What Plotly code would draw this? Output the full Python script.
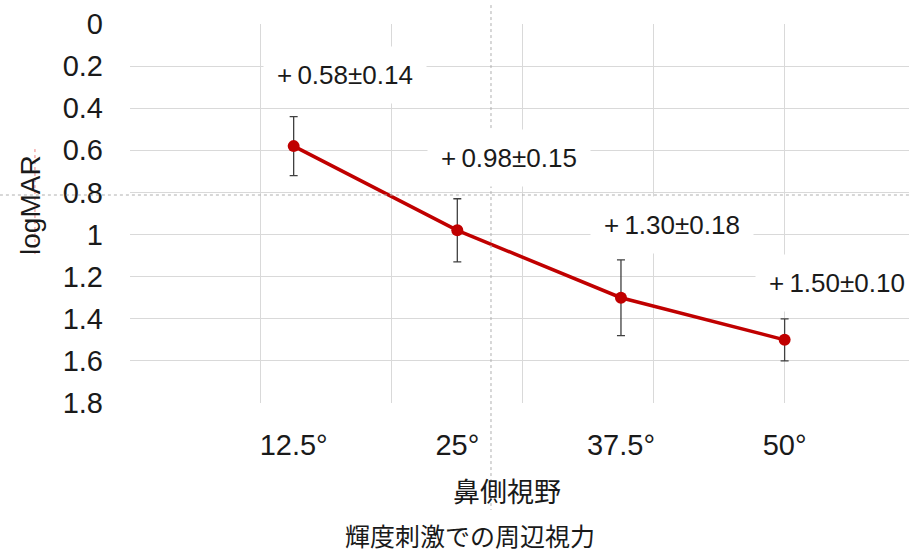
import plotly.graph_objects as go

# Nasal visual field eccentricity (degrees) and mean logMAR ± SD
eccentricity = [12.5, 25, 37.5, 50]
logmar_mean = [0.58, 0.98, 1.30, 1.50]
logmar_sd = [0.14, 0.15, 0.18, 0.10]
tick_text = [f"{v:g}°" for v in eccentricity]
y_ticks = [0, 0.2, 0.4, 0.6, 0.8, 1.0, 1.2, 1.4, 1.6, 1.8]
grid_x = [0, 10, 20, 30, 40, 50, 60]

# label offsets (pixels) relative to each point
label_dx = [51, 52, 51, 52]
label_dy = [71, 72, 73, 57]

LATIN = "Liberation Sans, Arial, sans-serif"
CJK = "Noto Sans CJK JP, sans-serif"
RED = "#C00000"
GRID = "#d9d9d9"

fig = go.Figure()
fig.add_trace(go.Scatter(
    x=eccentricity, y=logmar_mean,
    mode="lines+markers",
    line=dict(color=RED, width=3.5),
    marker=dict(color=RED, size=12),
    error_y=dict(type="data", array=logmar_sd, visible=True,
                 color="#404040", thickness=1.3, width=4),
    showlegend=False,
))

for x, m, s, dx, dy in zip(eccentricity, logmar_mean, logmar_sd, label_dx, label_dy):
    fig.add_annotation(
        x=x, y=m, xref="x", yref="y",
        xanchor="center", yanchor="middle",
        text=f"+\u2009{m:.2f}±{s:.2f}",
        showarrow=False, xshift=dx, yshift=dy,
        font=dict(family=LATIN, size=26, color="#1a1a1a"),
        bgcolor="white", borderpad=13,
    )

# axis titles
title_common = dict(xref="paper", yref="paper", showarrow=False,
                    xanchor="center", yanchor="middle")
fig.add_annotation(x=0.484, y=-0.2296, text="鼻側視野",
                   font=dict(family=CJK, size=27, color="#1a1a1a"), **title_common)
fig.add_annotation(x=0.4365, y=-0.3483, text="輝度刺激での周辺視力",
                   font=dict(family=CJK, size=25, color="#1a1a1a"), **title_common)
fig.add_annotation(x=-0.1284, y=0.5224, text="logMAR", textangle=-90,
                   font=dict(family=LATIN, size=28, color="#1a1a1a"), **title_common)

# dotted guide lines
guide = dict(color="#b0b0b0", width=1, dash="dot")
fig.add_shape(type="line", xref="paper", yref="paper",
              x0=-0.167, x1=1.0, y0=0.5488, y1=0.5488, line=guide)
fig.add_shape(type="line", xref="paper", yref="paper",
              x0=0.4634, x1=0.4634, y0=1.05, y1=-0.282, line=guide)
fig.add_shape(type="line", xref="paper", yref="paper",
              x0=-0.122, x1=-0.122, y0=0.670, y1=0.390,
              line=dict(color="#f08080", width=1, dash="dot"))

fig.update_layout(
    width=909, height=555,
    margin=dict(l=130, r=0, t=24, b=152),
    paper_bgcolor="white", plot_bgcolor="white",
    font=dict(family=LATIN, color="#1a1a1a"),
    xaxis=dict(
        range=[0, 59.5],
        tickmode="array", tickvals=eccentricity, ticktext=tick_text,
        showgrid=False, zeroline=False, showline=False,
        ticks="", ticklabelstandoff=22,
        tickfont=dict(family=LATIN, size=29, color="#1a1a1a"),
        minor=dict(tickmode="array", tickvals=grid_x, showgrid=True,
                   gridcolor=GRID, gridwidth=1, ticks=""),
    ),
    yaxis=dict(
        range=[1.8, 0],
        tickmode="array", tickvals=y_ticks,
        showgrid=True, gridcolor=GRID, gridwidth=1,
        zeroline=False, showline=False, ticks="",
        ticklabelstandoff=26,
        tickfont=dict(family=LATIN, size=29, color="#1a1a1a"),
    ),
)

fig.write_html("out.html")
